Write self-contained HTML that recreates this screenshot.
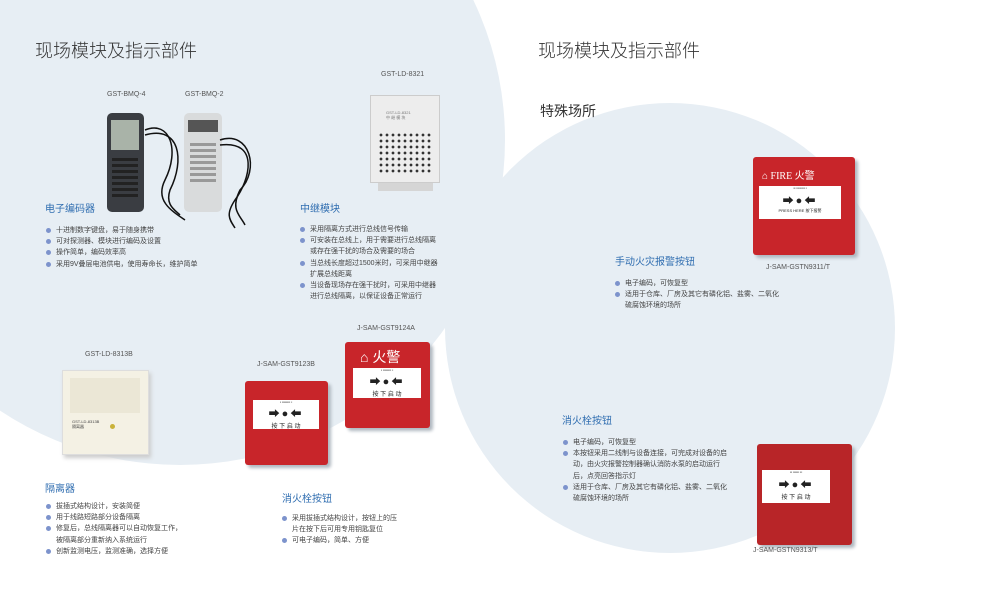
<!DOCTYPE html>
<html><head><meta charset="utf-8"><style>
*{margin:0;padding:0;box-sizing:border-box}
body{width:1003px;height:603px;position:relative;overflow:hidden;background:#fff;font-family:"Liberation Sans","Noto Sans CJK SC",sans-serif;color:#444}
.c{position:absolute;border-radius:50%;background:#e7eef4}
.t{position:absolute;white-space:nowrap}
.h1{font-size:18px;color:#333;font-weight:300}
.h2{font-size:10px;color:#2f6db0}
.lb{font-size:7px;color:#555}
ul{position:absolute;list-style:none;font-size:7px;line-height:11.2px;color:#444}
li{position:relative;padding-left:11px}
li:before{content:"";position:absolute;left:1px;top:3px;width:5px;height:5px;border-radius:50%;background:#7d93cc}
.red{position:absolute;background:#c8252a;border-radius:3px;box-shadow:3px 3px 3px #b0b8c0}
.win{position:absolute;background:#fff;font-size:6px;color:#222;text-align:center}
.arr{font-size:11px;font-weight:bold;letter-spacing:2px}
</style></head><body>
<div class="c" style="left:-145px;top:-185px;width:650px;height:650px"></div>
<div class="c" style="left:445px;top:103px;width:450px;height:450px"></div>

<div class="t h1" style="left:35px;top:37px">现场模块及指示部件</div>
<div class="t h1" style="left:538px;top:37px">现场模块及指示部件</div>
<div class="t" style="left:540px;top:101px;font-size:14px;color:#333">特殊场所</div>

<div class="t lb" style="left:107px;top:91px">GST-BMQ-4</div>
<div class="t lb" style="left:185px;top:91px">GST-BMQ-2</div>
<div class="t lb" style="left:381px;top:71px">GST-LD-8321</div>
<div style="position:absolute;left:107px;top:113px;width:37px;height:99px;background:#3a3d42;border-radius:5px"></div>
<div style="position:absolute;left:111px;top:120px;width:28px;height:30px;background:#a9b3a8"></div>
<div style="position:absolute;left:112px;top:155px;width:26px;height:45px;background:repeating-linear-gradient(#3a3d42 0 3px,#222 3px 6px)"></div>
<div style="position:absolute;left:184px;top:113px;width:38px;height:99px;background:#d9dbdc;border-radius:5px"></div>
<div style="position:absolute;left:188px;top:120px;width:30px;height:12px;background:#555"></div>
<div style="position:absolute;left:190px;top:140px;width:26px;height:45px;background:repeating-linear-gradient(#d9dbdc 0 3px,#999 3px 6px)"></div>
<svg style="position:absolute;left:140px;top:120px" width="130" height="110"><g fill="none" stroke="#111" stroke-width="1.5"><path d="M5 10 C30 0 40 30 25 60 C15 80 30 90 45 100"/><path d="M5 15 C40 5 45 40 30 70 C25 85 35 90 40 95"/><path d="M80 20 C110 10 120 50 100 70 C90 90 100 95 105 105"/><path d="M80 25 C120 20 110 60 95 80 C85 95 90 100 95 108"/></g></svg>
<div style="position:absolute;left:370px;top:95px;width:70px;height:88px;background:#ededed;border:1px solid #ccc"></div>
<div style="position:absolute;left:378px;top:183px;width:55px;height:8px;background:#d5d5d5"></div>
<div class="t" style="left:386px;top:110px;font-size:4px;color:#777">GST-LD-8321<br>中 继 模 块</div>
<div style="position:absolute;left:378px;top:132px;width:54px;height:42px;background:radial-gradient(circle,#333 1.2px,transparent 1.6px) 0 0/6px 6px"></div>

<div class="t h2" style="left:45px;top:200px">电子编码器</div>
<ul style="left:45px;top:225px"><li>十进制数字键盘，易于随身携带</li><li>可对探测器、模块进行编码及设置</li><li>操作简单，编码效率高</li><li>采用9V叠层电池供电，使用寿命长，维护简单</li></ul>
<div class="t h2" style="left:300px;top:200px">中继模块</div>
<ul style="left:299px;top:224px"><li>采用隔离方式进行总线信号传输</li><li>可安装在总线上，用于需要进行总线隔离<br>或存在强干扰的场合及需要的场合</li><li>当总线长度超过1500米时，可采用中继器<br>扩展总线距离</li><li>当设备现场存在强干扰时，可采用中继器<br>进行总线隔离，以保证设备正常运行</li></ul>

<div class="t lb" style="left:85px;top:351px">GST-LD-8313B</div>
<div style="position:absolute;left:62px;top:370px;width:87px;height:85px;background:#f4f1e4;border:1px solid #ddd;box-shadow:2px 3px 4px #ccc"></div>
<div style="position:absolute;left:70px;top:378px;width:70px;height:35px;background:#ebe7d6"></div>
<div class="t" style="left:72px;top:419px;font-size:4px;color:#444">GST-LD-8313B<br>隔离器</div>
<div style="position:absolute;left:110px;top:424px;width:5px;height:5px;border-radius:50%;background:#c9b23a"></div>

<div class="t lb" style="left:257px;top:361px">J-SAM-GST9123B</div>
<div class="red" style="left:245px;top:381px;width:83px;height:84px"></div>
<div class="win" style="left:253px;top:400px;width:66px;height:29px"><div style="font-size:3px;height:5px">▪ ▪▪▪▪▪▪▪▪ ▪</div><div class="arr">➡●⬅</div>按 下 启 动</div>
<div class="t lb" style="left:357px;top:325px">J-SAM-GST9124A</div>
<div class="red" style="left:345px;top:342px;width:85px;height:86px"></div>
<div class="t" style="left:360px;top:347px;font-size:14px;color:#fff">⌂ 火警</div>
<div class="win" style="left:353px;top:368px;width:68px;height:30px"><div style="font-size:3px;height:5px">▪ ▪▪▪▪▪▪▪▪ ▪</div><div class="arr">➡●⬅</div>按 下 启 动</div>

<div class="t h2" style="left:45px;top:480px">隔离器</div>
<ul style="left:45px;top:501px"><li>拔插式结构设计，安装简便</li><li>用于线路短路部分设备隔离</li><li>修复后，总线隔离器可以自动恢复工作，<br>被隔离部分重新纳入系统运行</li><li>创新监测电压，监测准确，选择方便</li></ul>
<div class="t h2" style="left:282px;top:490px">消火栓按钮</div>
<ul style="left:281px;top:513px"><li>采用拔插式结构设计，按钮上的压<br>片在按下后可用专用钥匙复位</li><li>可电子编码，简单、方便</li></ul>

<div class="red" style="left:753px;top:157px;width:102px;height:98px"></div>
<div class="t" style="left:762px;top:167px;font-size:10px;color:#fff;font-family:'Liberation Serif','Noto Sans CJK SC',serif">⌂ FIRE 火警</div>
<div class="win" style="left:759px;top:186px;width:82px;height:33px"><div style="font-size:3px;height:6px">▪▪ ▪▪▪▪▪▪▪▪ ▪</div><div class="arr">➡●⬅</div><span style="font-size:4px">PRESS HERE 按下报警</span></div>
<div class="t h2" style="left:615px;top:253px">手动火灾报警按钮</div>
<div class="t lb" style="left:766px;top:264px">J-SAM-GSTN9311/T</div>
<ul style="left:614px;top:278px"><li>电子编码，可恢复型</li><li>适用于仓库、厂房及其它有磷化铝、盐雾、二氧化<br>硫腐蚀环境的场所</li></ul>

<div class="t h2" style="left:562px;top:412px">消火栓按钮</div>
<ul style="left:562px;top:437px"><li>电子编码，可恢复型</li><li>本按钮采用二线制与设备连接，可完成对设备的启<br>动，由火灾报警控制器确认消防水泵的启动运行<br>后，点亮回答指示灯</li><li>适用于仓库、厂房及其它有磷化铝、盐雾、二氧化<br>硫腐蚀环境的场所</li></ul>
<div class="red" style="left:757px;top:444px;width:95px;height:101px;background:#b82528"></div>
<div class="win" style="left:762px;top:470px;width:68px;height:33px"><div style="font-size:3px;height:6px">▪▪ ▪▪▪▪▪▪ ▪▪</div><div class="arr">➡●⬅</div>按 下 启 动</div>
<div class="t lb" style="left:753px;top:547px">J-SAM-GSTN9313/T</div>
</body></html>
